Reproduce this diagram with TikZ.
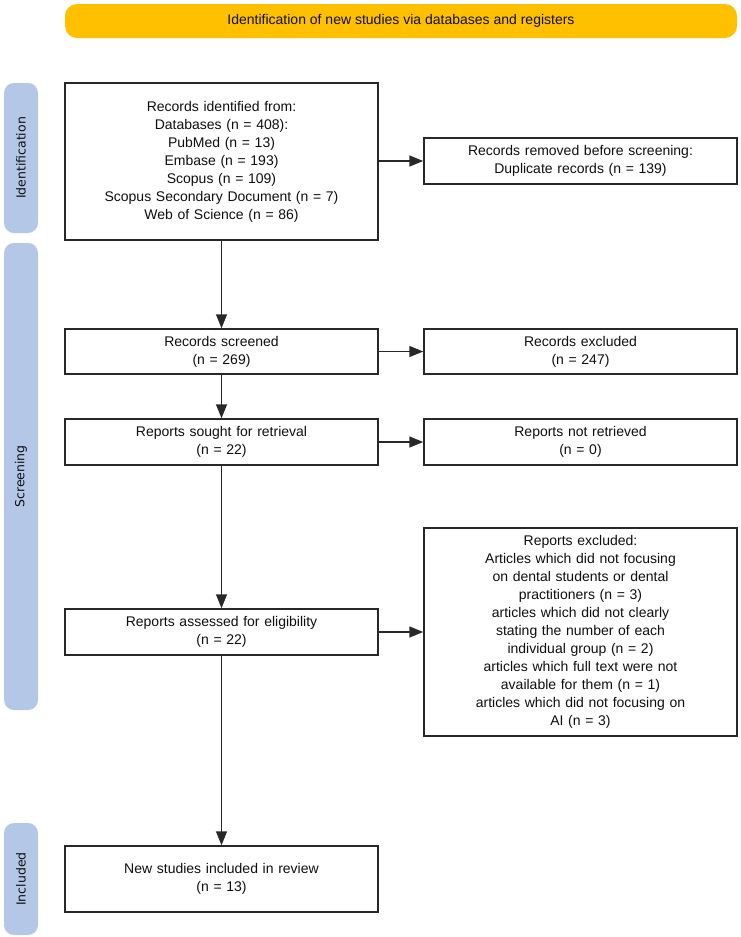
\documentclass[tikz,border=0pt]{standalone}
\usepackage{fontspec}
\setmainfont{Liberation Sans}
\newfontfamily\pillfont{DejaVu Sans}
\usetikzlibrary{arrows.meta}
\definecolor{bannercol}{RGB}{255,192,0}
\definecolor{pillcol}{RGB}{180,199,231}
\definecolor{edgecol}{RGB}{40,40,40}
\definecolor{txtcol}{RGB}{15,15,15}
\tikzset{
  box/.style={draw=edgecol, line width=1.5pt, fill=white, align=center, inner sep=0pt,
    text width=300pt, minimum width=313pt, text=txtcol, font=\fontsize{14}{18}\selectfont},
  banner/.style={fill=bannercol, rounded corners=12pt, minimum width=672pt, minimum height=34pt,
    inner sep=0pt, text=txtcol, font=\fontsize{14}{18}\selectfont},
  pill/.style={fill=pillcol, rounded corners=10pt, rotate=90, minimum height=34pt, inner sep=0pt,
    text=txtcol, font=\pillfont\fontsize{12.5}{15}\selectfont},
  arr/.style={draw=edgecol, line width=1.5pt, -{Triangle[length=14pt,width=11pt]}}
}
\begin{document}
\begin{tikzpicture}[x=1pt,y=-1pt]
\useasboundingbox (0,0) rectangle (740,937);
% banner
\node[banner] (ban) at (401,21) {Identification of new studies via databases and registers};
% side pills
\node[pill, minimum width=150pt] (pid) at (21,158) {Identification};
\node[pill, minimum width=467pt] (psc) at (21,476.5) {Screening};
\node[pill, minimum width=112pt] (pin) at (21,879) {Included};
% left column
\node[box, minimum height=157pt] (ident) at (221.5,161.5) {Records identified from:\\Databases (n = 408):\\PubMed (n = 13)\\Embase (n = 193)\\Scopus (n = 109)\\Scopus Secondary Document (n = 7)\\Web of Science (n = 86)};
\node[box, minimum height=45pt] (scr) at (221.5,351.5) {Records screened\\(n = 269)};
\node[box, minimum height=46pt] (sought) at (221.5,442) {Reports sought for retrieval\\(n = 22)};
\node[box, minimum height=46pt] (assess) at (221.5,632) {Reports assessed for eligibility\\(n = 22)};
\node[box, minimum height=66pt] (incl) at (221.5,879) {New studies included in review\\(n = 13)};
% right column
\node[box, minimum height=46pt] (removed) at (580.5,161) {Records removed before screening:\\Duplicate records (n = 139)};
\node[box, minimum height=45pt] (excl) at (580.5,351.5) {Records excluded\\(n = 247)};
\node[box, minimum height=46pt] (notret) at (580.5,442) {Reports not retrieved\\(n = 0)};
\node[box, minimum height=208pt] (repexcl) at (580.5,632) {Reports excluded:\\Articles which did not focusing\\on dental students or dental\\practitioners (n = 3)\\articles which did not clearly\\stating the number of each\\individual group (n = 2)\\articles which full text were not\\available for them (n = 1)\\articles which did not focusing on\\AI (n = 3)};
% connectors
\draw[arr] (ident.east |- removed.west) -- (removed.west);
\draw[arr] (scr.east) -- (excl.west);
\draw[arr] (sought.east) -- (notret.west);
\draw[arr] (assess.east) -- (repexcl.west);
\draw[arr] (ident.south) -- (scr.north);
\draw[arr] (scr.south) -- (sought.north);
\draw[arr] (sought.south) -- (assess.north);
\draw[arr] (assess.south) -- (incl.north);
\end{tikzpicture}
\end{document}
